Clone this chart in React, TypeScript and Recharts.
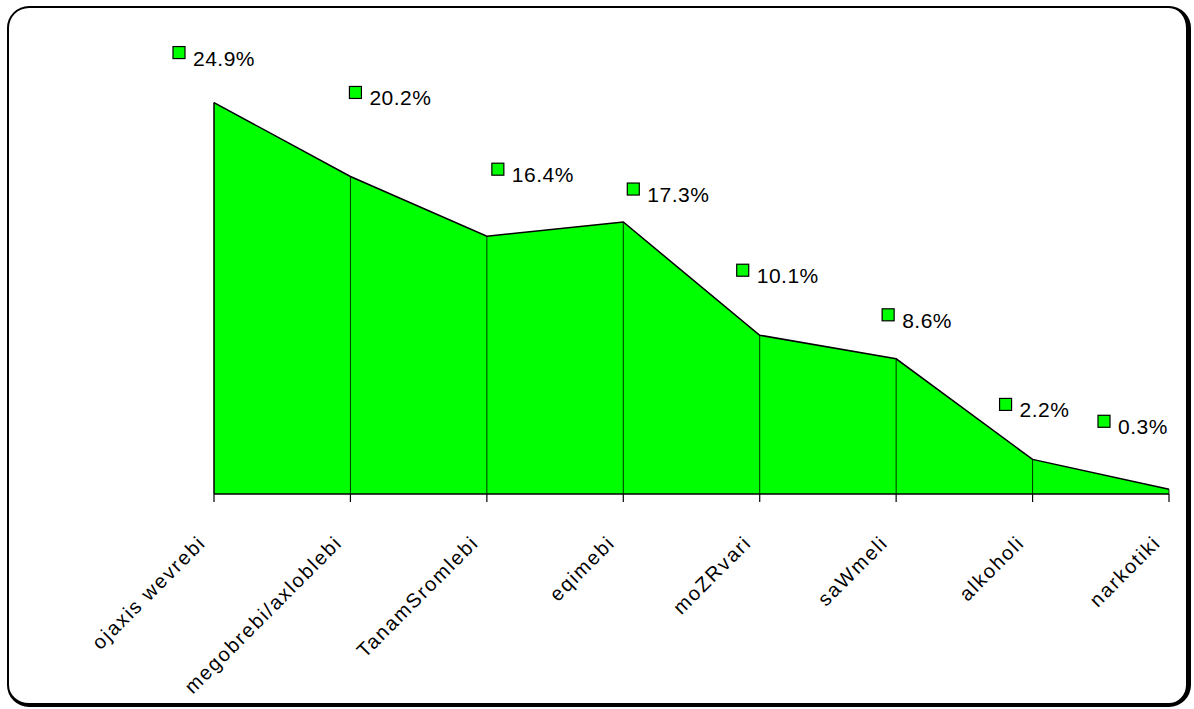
import { Area, AreaChart, LabelList, ReferenceLine, XAxis, YAxis } from "recharts";

const categories = [
  "ojaxis wevrebi",
  "megobrebi/axloblebi",
  "TanamSromlebi",
  "eqimebi",
  "moZRvari",
  "saWmeli",
  "alkoholi",
  "narkotiki",
];
const shares = [24.9, 20.2, 16.4, 17.3, 10.1, 8.6, 2.2, 0.3];
const shareLabels = ["24.9%", "20.2%", "16.4%", "17.3%", "10.1%", "8.6%", "2.2%", "0.3%"];

// label nudges (the labels were moved by hand in the original)
const labelNudge = [
  [-41, -50],
  [-1, -84],
  [5, -67],
  [4, -33],
  [-23, -65],
  [-14, -44],
  [-33, -55],
  [-71, -68],
];

const data = categories.map((name, i) => ({ name, value: shares[i], label: shareLabels[i] }));

const FONT = "'Liberation Sans', Arial, sans-serif";

function ValueLabel(props: any) {
  const { x, y, index } = props;
  const [dx, dy] = labelNudge[index];
  const sx = x + dx;
  const sy = y + dy;
  return (
    <g>
      <rect x={sx} y={sy - 6} width={12} height={12} fill="#00ff00" stroke="#000" strokeWidth={1.2} />
      <text x={sx + 20} y={sy + 13} fontSize={21} fontFamily={FONT} fill="#000" letterSpacing={0.5}>
        {shareLabels[index]}
      </text>
    </g>
  );
}

function CategoryTick(props: any) {
  const { x, y, payload } = props;
  return (
    <g transform={`translate(${x - 7},${y + 40})`}>
      <text transform="rotate(-45)" textAnchor="end" fontSize={20} fontFamily={FONT} fill="#000" letterSpacing={1.8}>
        {payload.value}
      </text>
    </g>
  );
}

export default function App() {
  return (
    <div style={{ position: "absolute", left: 0, top: 0, width: 1194, height: 709, background: "#fff" }}>
      <div
        style={{
          position: "absolute",
          left: 7,
          top: 6,
          width: 1184,
          height: 701,
          boxSizing: "border-box",
          borderStyle: "solid",
          borderColor: "#000",
          borderWidth: "2px 5px 4px 2px",
          borderRadius: 22,
        }}
      />
      <div style={{ position: "absolute", left: 0, top: 0 }}>
        <AreaChart width={1194} height={709} data={data} margin={{ top: 101, right: 25, bottom: 185, left: 214 }}>
          <XAxis
            dataKey="name"
            interval={0}
            height={30}
            axisLine={{ stroke: "#000", strokeWidth: 1.5 }}
            tickLine={{ stroke: "#000", strokeWidth: 1.2 }}
            tickSize={8}
            tick={<CategoryTick />}
          />
          <YAxis hide domain={[0, 25]} />
          <Area
            type="linear"
            dataKey="value"
            fill="#00ff00"
            fillOpacity={1}
            stroke="#000"
            strokeWidth={1.5}
            dot={false}
            activeDot={false}
            isAnimationActive={false}
          >
            <LabelList dataKey="label" content={<ValueLabel />} />
          </Area>
          {data.map((d, i) => (
            <ReferenceLine
              key={d.name}
              segment={[
                { x: d.name, y: 0 },
                { x: d.name, y: d.value },
              ]}
              stroke="#000"
              strokeWidth={i === 0 ? 1.5 : 0.8}
            />
          ))}
        </AreaChart>
      </div>
    </div>
  );
}
